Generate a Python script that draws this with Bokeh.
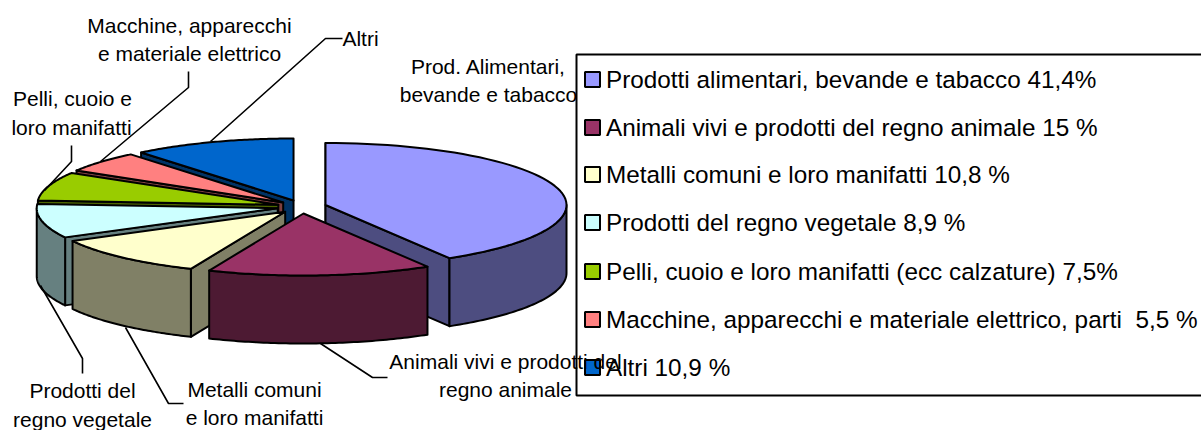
import math
from bokeh.plotting import figure
from bokeh.models import Range1d
from bokeh.core.properties import value
from bokeh.embed import file_html
from bokeh.resources import INLINE

# Data
categories = ["Prodotti alimentari, bevande e tabacco 41,4%",
              "Animali vivi e prodotti del regno animale 15 %",
              "Metalli comuni e loro manifatti 10,8 %",
              "Prodotti del regno vegetale 8,9 %",
              "Pelli, cuoio e loro manifatti (ecc calzature) 7,5%",
              "Macchine, apparecchi e materiale elettrico, parti \u00a05,5 %",
              "Altri 10,9 %"]
shares = [41.4, 15.0, 10.8, 8.9, 7.5, 5.5, 10.9]
top_colors = ["#9999FF", "#993366", "#FFFFCC", "#CCFFFF", "#99CC00", "#FF8080", "#0066CC"]
side_colors = ["#4D4D80", "#4D1A33", "#808066", "#668080", "#4D6600", "#804040", "#003366"]

# Labels: text, centre x, middle y
label_text = ["Macchine, apparecchi", "e materiale elettrico", "Altri",
              "Pelli, cuoio e", "loro manifatti",
              "Prod. Alimentari,", "bevande e tabacco",
              "Animali vivi e prodotti del", "regno animale",
              "Metalli comuni", "e loro manifatti",
              "Prodotti del", "regno vegetale"]
label_x = [189, 189, 360, 72, 71, 488, 488, 505, 505, 254, 254, 82, 82]
label_y = [25, 53, 38, 98, 127, 66, 94, 361, 389, 389, 417, 390, 419]

leaders = [[(342, 38), (325, 38), (210, 141)],
           [(188, 71), (188, 87), (100, 161)],
           [(71, 145), (71, 161), (44, 190)],
           [(40, 285), (82, 358), (82, 373)],
           [(125, 327), (168, 403), (183, 403)],
           [(320, 343), (372, 377), (387, 377)]]

# Pie geometry
CX, CY, A, B, H = 301.3, 206.3, 241, 62, 68
EX, EY = 24.6, 6.7

p = figure(width=1201, height=430, output_backend="svg", toolbar_location=None,
           x_range=Range1d(0, 1201), y_range=Range1d(430, 0), min_border=0)
p.axis.visible = False
p.grid.visible = False
p.outline_line_color = None
p.background_fill_color = "white"
p.border_fill_color = "white"

# Legend box
p.quad(left=[576], right=[1300], top=[54], bottom=[395], fill_color="white",
       line_color="black", line_width=2)

def rim(ax, ay, t0, t1, dy=0, n=60):
    out = []
    for i in range(n + 1):
        t = math.radians(t0 + (t1 - t0) * i / n)
        out.append((ax + A * math.sin(t), ay - B * math.cos(t) + dy))
    return out

angles = []
acc = 0
total = sum(shares)
for s in shares:
    angles.append((acc / total * 360, (acc + s) / total * 360))
    acc += s

order = [0, 6, 5, 4, 3, 2, 1]
for i in order:
    t0, t1 = angles[i]
    m = math.radians((t0 + t1) / 2)
    ax, ay = CX + EX * math.sin(m), CY - EY * math.cos(m)
    polys = []
    # radial walls that face the viewer
    for t, show in ((t0, math.sin(math.radians(t0)) < 1e-9), (t1, math.sin(math.radians(t1)) > 1e-9)):
        if show:
            e = rim(ax, ay, t, t, n=1)[0]
            polys.append(([(ax, ay), e, (e[0], e[1] + H), (ax, ay + H)], side_colors[i]))
    # outer rim, front half only
    r0, r1 = max(t0, 90), min(t1, 270)
    if r1 > r0:
        up = rim(ax, ay, r0, r1)
        lo = rim(ax, ay, r0, r1, dy=H)
        polys.append((up + lo[::-1], side_colors[i]))
    # top
    polys.append(([(ax, ay)] + rim(ax, ay, t0, t1), top_colors[i]))
    for pts, col in polys:
        p.patch([q[0] for q in pts], [q[1] for q in pts], fill_color=col,
                line_color="black", line_width=2, line_join="round")

# Leader lines
p.multi_line([[q[0] for q in l] for l in leaders], [[q[1] for q in l] for l in leaders],
             line_color="black", line_width=1.6)

# Legend
leg_y = [79, 127, 174, 222, 271, 319, 367]
p.scatter([592] * 7, leg_y, marker="square", size=15, fill_color=top_colors,
          line_color="black", line_width=2)
p.text([605.5] * 7, leg_y, text=categories, text_font=value("Liberation Sans"),
       text_font_size="24.3px", text_color="black", text_baseline="middle", text_align="left")

# Labels
p.text(label_x, label_y, text=label_text, text_font=value("Liberation Sans"),
       text_font_size="21px", text_color="black", text_baseline="middle", text_align="center")

open("out.html", "w").write(file_html(p, INLINE))
